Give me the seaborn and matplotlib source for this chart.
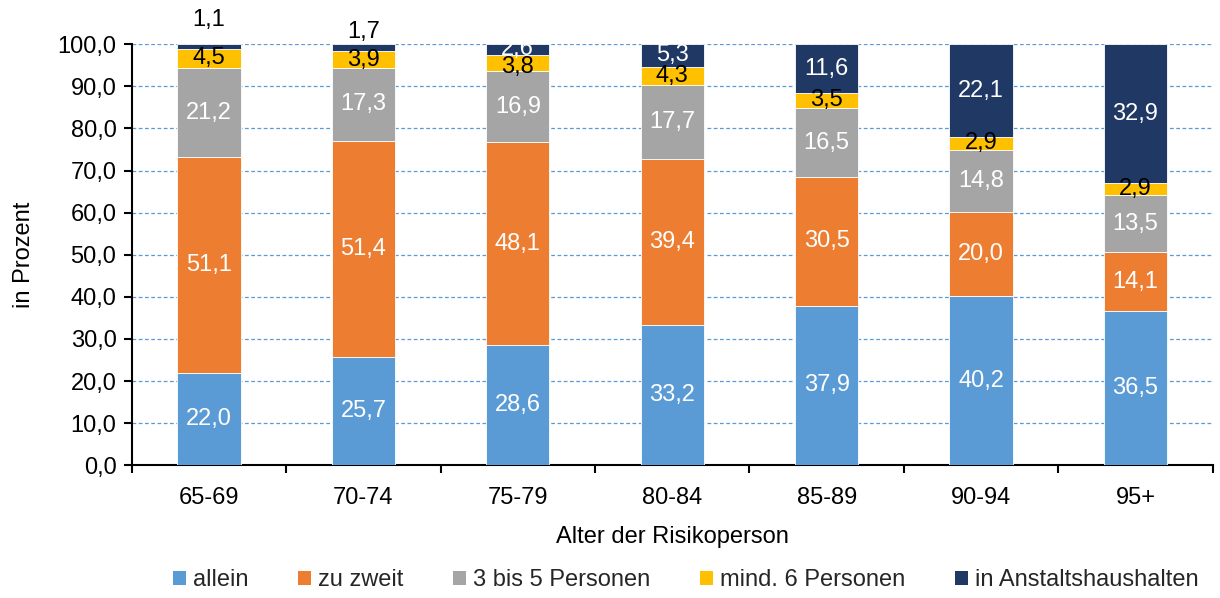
import numpy as np
import pandas as pd
import matplotlib
matplotlib.use("Agg")
import matplotlib.pyplot as plt
import seaborn as sns
from matplotlib.patches import Patch
from matplotlib.ticker import FixedLocator, FuncFormatter

categories = ["65-69", "70-74", "75-79", "80-84", "85-89", "90-94", "95+"]
allein = [22.0, 25.7, 28.6, 33.2, 37.9, 40.2, 36.5]
zu_zweit = [51.1, 51.4, 48.1, 39.4, 30.5, 20.0, 14.1]
drei_bis_fuenf = [21.2, 17.3, 16.9, 17.7, 16.5, 14.8, 13.5]
mind_sechs = [4.5, 3.9, 3.8, 4.3, 3.5, 2.9, 2.9]
anstalt = [1.1, 1.7, 2.6, 5.3, 11.6, 22.1, 32.9]

series_names = ["allein", "zu zweit", "3 bis 5 Personen", "mind. 6 Personen", "in Anstaltshaushalten"]
series_values = [allein, zu_zweit, drei_bis_fuenf, mind_sechs, anstalt]
colors = ["#5B9BD5", "#ED7D31", "#A5A5A5", "#FFC000", "#203864"]
label_colors = ["white", "white", "white", "black", "white"]

FS = 17

sns.set_theme(style="white")
plt.rcParams["font.family"] = ["Liberation Sans", "DejaVu Sans"]
plt.rcParams["font.size"] = FS

fig = plt.figure(figsize=(12.2, 5.98), dpi=100)
ax = fig.add_axes([0.108, 0.222, 0.886, 0.704])

# 100 % stacked: normalise each column to its total
totals = np.sum(np.array(series_values), axis=0)

df = pd.DataFrame({"Alter": categories})
bottom = np.zeros(len(categories))
for name, vals, col, lc in zip(series_names, series_values, colors, label_colors):
    h = np.array(vals) / totals * 100
    df["v"] = h
    sns.barplot(data=df, x="Alter", y="v", ax=ax, color=col, bottom=bottom,
                width=0.41, edgecolor="white", linewidth=0.6, saturation=1, zorder=3)
    for i, v in enumerate(vals):
        mid = bottom[i] + h[i] / 2
        c = lc
        y = mid
        if name == "in Anstaltshaushalten" and v < 2:
            c = "black"
            y = bottom[i] + h[i] + (5.8 if v < 1.5 else 3.0)
        if name == "in Anstaltshaushalten" and categories[i] == "75-79":
            y = mid + 0.2
        if name == "mind. 6 Personen" and categories[i] == "75-79":
            y = mid - 0.8
        ax.text(i, y, f"{v:.1f}".replace(".", ","), ha="center", va="center",
                color=c, fontsize=FS, zorder=5)
    bottom = bottom + h

ax.set_ylim(0, 100)
ax.set_xlim(-0.5, len(categories) - 0.5)
ax.set_yticks(np.arange(0, 101, 10))
ax.yaxis.set_major_formatter(FuncFormatter(lambda v, p: f"{v:.1f}".replace(".", ",")))
ax.yaxis.grid(True, linestyle=(0, (3, 2)), color="#5B9BD5", linewidth=0.9, zorder=0)
ax.set_axisbelow(True)
ax.xaxis.grid(False)

ax.xaxis.set_major_locator(FixedLocator(range(len(categories))))
ax.set_xticklabels(categories)
ax.xaxis.set_minor_locator(FixedLocator(np.arange(-0.5, len(categories), 1.0)))
ax.tick_params(axis="x", which="major", length=0, pad=16, labelsize=FS, colors="black")
ax.tick_params(axis="x", which="minor", length=6, width=1.5, direction="out", bottom=True, color="black")
ax.tick_params(axis="y", length=6, width=1.5, direction="out", left=True, labelsize=FS, colors="black", pad=5)

for s in ["top", "right"]:
    ax.spines[s].set_visible(False)
for s in ["left", "bottom"]:
    ax.spines[s].set_color("black")
    ax.spines[s].set_linewidth(1.5)

ax.set_xlabel("Alter der Risikoperson", fontsize=FS, labelpad=12, color="black")
ax.set_ylabel("in Prozent", fontsize=FS, labelpad=16, color="black")

handles = [Patch(facecolor=c, edgecolor="none") for c in colors]
fig.legend(handles, series_names, loc="center", bbox_to_anchor=(0.562, 0.03), ncol=5,
           frameon=False, fontsize=FS, handlelength=0.55, handleheight=0.55,
           handletextpad=0.3, columnspacing=2.1, borderpad=0)

fig.savefig("out.png", dpi=100)
